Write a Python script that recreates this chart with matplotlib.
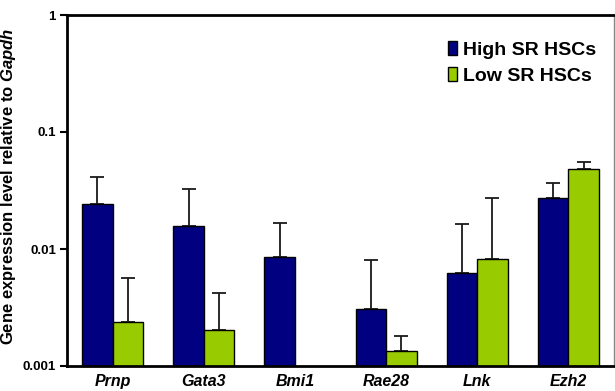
import numpy as np
import matplotlib
matplotlib.use("Agg")
import matplotlib.pyplot as plt
from matplotlib.patches import Patch
from matplotlib.ticker import FixedLocator, FixedFormatter, NullLocator

plt.rcParams['font.family'] = ['Liberation Sans', 'DejaVu Sans']
plt.rcParams['mathtext.fontset'] = 'custom'
plt.rcParams['mathtext.bfit'] = 'Liberation Sans:italic:bold'
plt.rcParams['mathtext.it'] = 'Liberation Sans:italic:bold'

genes = ['Prnp', 'Gata3', 'Bmi1', 'Rae28', 'Lnk', 'Ezh2']

# mean expression relative to Gapdh, with upper error (SD)
high_sr = [0.0243, 0.0157, 0.00855, 0.0031, 0.0062, 0.0271]
high_sr_err = [0.0167, 0.0169, 0.0081, 0.0050, 0.0102, 0.0098]
low_sr = [0.00236, 0.00203, np.nan, 0.00135, 0.0082, 0.0483]
low_sr_err = [0.00333, 0.00215, np.nan, 0.00045, 0.0191, 0.0074]

yticks = [0.001, 0.01, 0.1, 1]
ytick_labels = ['0.001', '0.01', '0.1', '1']

navy = '#000080'
green = '#99cc00'

fig = plt.figure(figsize=(6.15, 3.91), dpi=100)
ax = fig.add_axes([67 / 615, 25 / 391, 547 / 615, 351 / 391])
ax.set_yscale('log')

x = np.arange(len(genes))
w = 0.334

hi = np.array(high_sr)
lo = np.array(low_sr)
ax.bar(x - w / 2, hi, w, color=navy, edgecolor='black', linewidth=1, zorder=2)
ax.bar(x + w / 2, lo, w, color=green, edgecolor='black', linewidth=1, zorder=2)

ax.errorbar(x - w / 2, hi, yerr=[np.zeros_like(hi), high_sr_err], fmt='none',
            ecolor='#1a1a1a', elinewidth=1.3, capsize=5, capthick=1.3, zorder=1)
ax.errorbar(x + w / 2, lo, yerr=[np.zeros_like(lo), low_sr_err], fmt='none',
            ecolor='#1a1a1a', elinewidth=1.3, capsize=5, capthick=1.3, zorder=1)

ax.set_xlim(-0.5, len(genes) - 0.5)
ax.set_ylim(0.001, 1)
ax.yaxis.set_major_locator(FixedLocator(yticks))
ax.yaxis.set_major_formatter(FixedFormatter(ytick_labels))
ax.yaxis.set_minor_locator(NullLocator())
ax.tick_params(axis='y', length=5, width=1.5, labelsize=9.5, pad=3)
for lab in ax.get_yticklabels():
    lab.set_fontweight('bold')

ax.set_xticks(x)
ax.set_xticklabels(genes, fontsize=11.5, fontweight='bold', fontstyle='italic')
ax.tick_params(axis='x', length=0, pad=6)

for side in ['left', 'bottom', 'top']:
    ax.spines[side].set_linewidth(2)
ax.spines['right'].set_linewidth(1)
ax.spines['right'].set_color('#888888')

ax.set_ylabel(r'Gene expression level relative to $\mathbfit{Gapdh}$',
              fontsize=12, fontweight='bold')
ax.yaxis.set_label_coords(-0.0887, 0.511)

handles = [Patch(facecolor=navy, edgecolor='black', linewidth=1),
           Patch(facecolor=green, edgecolor='black', linewidth=1)]
ax.legend(handles, ['High SR HSCs', 'Low SR HSCs'], loc='upper left',
          bbox_to_anchor=((448 - 67) / 547, (366 - 41) / 351),
          frameon=False, prop={'weight': 'bold', 'size': 14},
          handlelength=0.45, handleheight=0.75, handletextpad=0.3,
          labelspacing=0.42, borderpad=0, borderaxespad=0)

fig.savefig('out.png', dpi=100)
